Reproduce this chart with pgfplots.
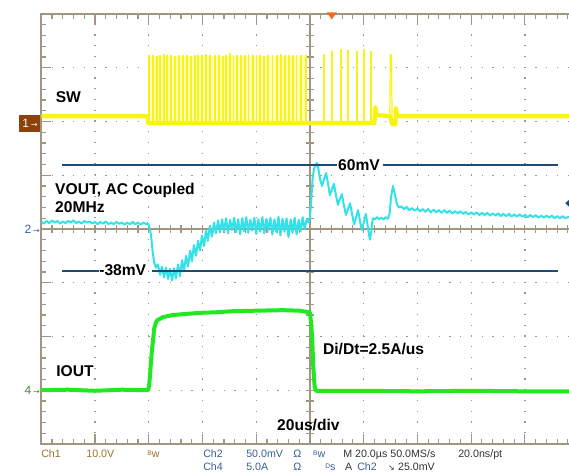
\documentclass[border=0pt]{standalone}
\usepackage{pgfplots}
\pgfplotsset{compat=1.18}
\usepackage{fontspec}
\setmainfont{Liberation Sans}
\newfontfamily\dejavu{DejaVu Sans}

\definecolor{swy}{RGB}{248,244,18}
\definecolor{swpale}{RGB}{255,255,190}
\definecolor{vcyan}{RGB}{50,226,232}
\definecolor{igreen}{RGB}{34,232,34}
\definecolor{lvl}{RGB}{32,74,114}
\definecolor{gratc}{RGB}{160,150,130}
\definecolor{gridc}{RGB}{150,150,150}
\definecolor{chone}{RGB}{150,115,45}
\definecolor{chtwo}{RGB}{55,95,150}
\definecolor{chfour}{RGB}{70,140,60}
\definecolor{mark1}{RGB}{140,66,8}
\definecolor{trig}{RGB}{240,105,40}

\newcommand\bw{\raisebox{1.6pt}{\fontsize{5}{5}\selectfont B}w}
\newcommand\ds{\raisebox{1.6pt}{\fontsize{5}{5}\selectfont D}s}

\tikzset{
  lab/.style={font=\fontsize{11.7}{12}\selectfont\bfseries, inner sep=0pt, anchor=base west},
  st/.style={font=\fontsize{8}{9}\selectfont, inner sep=0pt, anchor=base west},
}

\begin{document}
\begin{tikzpicture}
\useasboundingbox (0,0) rectangle (426.75pt,354pt);
\begin{axis}[
  at={(30.75pt,21pt)}, anchor=south west,
  scale only axis, width=396pt, height=322.5pt,
  xmin=-100.1, xmax=96.4, ymin=-4, ymax=4,
  hide axis, clip=false,
]
% graticule: dotted grid
\pgfplotsinvokeforeach{-80,-60,-40,-20,20,40,60,80}{
  \draw[gridc, line width=0.9pt, dash pattern=on 0.9pt off 7.16pt] (axis cs:#1,-4) -- (axis cs:#1,4);
}
\pgfplotsinvokeforeach{-3,-2,-1,1,2,3}{
  \draw[gridc, line width=0.9pt, dash pattern=on 0.9pt off 7.16pt] (axis cs:-100.1,#1) -- (axis cs:96.4,#1);
}
% frame and centre cross
\draw[gratc, line width=1pt] (axis cs:96.4,4) -- (axis cs:-100.1,4) -- (axis cs:-100.1,-4) -- (axis cs:96.4,-4);
\draw[gratc, line width=0.9pt] (axis cs:-100.1,0) -- (axis cs:96.4,0);
\draw[gratc, line width=0.9pt] (axis cs:0,-4) -- (axis cs:0,4);
\pgfplotsinvokeforeach{-96,-92,...,96}{
  \draw[gratc, line width=0.8pt] (axis cs:#1,4) -- ++(0pt,-3.75pt);
  \draw[gratc, line width=0.8pt] (axis cs:#1,-4) -- ++(0pt,3.75pt);
  \draw[gratc, line width=0.8pt] (axis cs:#1,0) ++(0pt,-3pt) -- ++(0pt,6pt);
}
\pgfplotsinvokeforeach{-80,-60,-40,-20,20,40,60,80}{
  \draw[gratc, line width=0.8pt] (axis cs:#1,4) -- ++(0pt,-7.5pt);
  \draw[gratc, line width=0.8pt] (axis cs:#1,-4) -- ++(0pt,7.5pt);
}
\pgfplotsinvokeforeach{-3.8,-3.6,...,3.8}{
  \draw[gratc, line width=0.8pt] (axis cs:-100.1,#1) -- ++(3.75pt,0pt);
  \draw[gratc, line width=0.8pt] (axis cs:0,#1) ++(-3pt,0pt) -- ++(6pt,0pt);
}
\pgfplotsinvokeforeach{-3,-2,-1,1,2,3}{
  \draw[gratc, line width=0.8pt] (axis cs:-100.1,#1) -- ++(7.5pt,0pt);
}

% SW (Ch1)
\addplot[draw=none, fill=swpale, forget plot] coordinates {(-60.3,1.97) (-60.3,3.22) (-1.0,3.22) (-1.0,1.97)};
\addplot[swy, line width=3.2pt, line join=round, forget plot] coordinates {
(-100,2.10) (-60.4,2.10) (-60.2,1.97) (24.0,1.97) (24.3,2.27) (24.8,2.12) (29.7,2.10)
(30.6,1.95) (31.8,1.95) (32.0,2.25) (32.4,2.10) (96.4,2.10)};
\addplot[swy, line width=0.9pt, const plot mark left, forget plot] coordinates {
(-60.3,1.97)
(-60.0,3.22)(-59.8,1.97) (-58.6,3.22)(-58.4,1.97) (-57.1,3.20)(-56.8,1.97)
(-56.0,3.22)(-55.8,1.97) (-54.6,3.24)(-54.3,1.97) (-53.2,3.22)(-53.0,1.97)
(-51.8,3.22)(-51.5,1.97) (-50.4,3.21)(-50.2,1.97) (-48.9,3.22)(-48.6,1.97)
(-47.4,3.22)(-47.2,1.97) (-45.9,3.22)(-45.6,1.97) (-44.5,3.20)(-44.3,1.97)
(-43.1,3.22)(-42.8,1.97) (-41.7,3.22)(-41.5,1.97) (-40.2,3.22)(-39.9,1.97)
(-38.7,3.25)(-38.5,1.97) (-37.3,3.22)(-37.0,1.97) (-35.5,3.22)(-35.3,1.97)
(-34.0,3.22)(-33.7,1.97) (-32.6,3.20)(-32.4,1.97) (-31.3,3.22)(-31.0,1.97)
(-29.9,3.26)(-29.6,1.97) (-28.6,3.22)(-28.4,1.97) (-27.2,3.22)(-26.9,1.97)
(-25.7,3.22)(-25.5,1.97) (-24.3,3.22)(-24.0,1.97) (-23.0,3.24)(-22.8,1.97)
(-21.5,3.22)(-21.2,1.97) (-20.0,3.22)(-19.8,1.97) (-18.6,3.22)(-18.3,1.97)
(-17.2,3.20)(-17.0,1.97) (-15.8,3.22)(-15.5,1.97) (-14.0,3.22)(-13.8,1.97)
(-12.5,3.22)(-12.2,1.97) (-11.0,3.24)(-10.8,1.97) (-9.5,3.22)(-9.2,1.97)
(-8.0,3.22)(-7.8,1.97) (-6.6,3.22)(-6.3,1.97) (-5.1,3.22)(-4.9,1.97)
(-3.5,3.22)(-3.2,1.97) (-1.6,3.22)(-1.4,1.97)
(5.2,3.24)(5.5,1.97) (8.2,3.30)(8.5,1.97) (11.5,3.33)(11.8,1.97)
(14.1,3.31)(14.4,1.97) (17.5,3.30)(17.8,1.97) (20.1,3.33)(20.4,1.97)
(22.7,3.30)(23.0,1.97)};
\addplot[swy, line width=0.9pt, forget plot] coordinates {
(29.7,2.10) (29.9,3.24) (30.3,3.24) (30.6,1.95)};

% VOUT (Ch2)
\addplot[vcyan, line width=1.5pt, line join=round, forget plot] coordinates {
(-100,0.14) (-99,0.10) (-98,0.15) (-97,0.11) (-96,0.16) (-95,0.12) (-94,0.15) (-93,0.10)
(-92,0.14) (-91,0.11) (-90,0.15) (-89,0.12) (-88,0.16) (-87,0.11) (-86,0.14) (-85,0.10)
(-84,0.15) (-83,0.12) (-82,0.14) (-81,0.10) (-80,0.13) (-79,0.09) (-78,0.13) (-77,0.10)
(-76,0.14) (-75,0.09) (-74,0.12) (-73,0.09) (-72,0.13) (-71,0.10) (-70,0.12) (-69,0.08)
(-68,0.12) (-67,0.09) (-66,0.13) (-65,0.09) (-64,0.12) (-63,0.08) (-62,0.12) (-61,0.09)
(-60.5,0.11) (-59.8,0.05) (-59.2,-0.10) (-58.6,-0.40) (-58.0,-0.62) (-57.3,-0.72) (-56.6,-0.66)
(-55.8,-0.85) (-55.1,-0.70) (-54.3,-0.90) (-53.6,-0.72) (-52.8,-0.93) (-52.1,-0.74)
(-51.3,-0.96) (-50.6,-0.73) (-49.9,-0.92) (-49.1,-0.66) (-48.4,-0.88) (-47.6,-0.58)
(-46.9,-0.78) (-46.1,-0.50) (-45.4,-0.70) (-44.6,-0.40) (-43.9,-0.60) (-43.2,-0.30)
(-42.4,-0.50) (-41.7,-0.22) (-40.9,-0.40) (-40.2,-0.12) (-39.4,-0.32) (-38.7,-0.02)
(-38.0,-0.22) (-37.2,0.06) (-36.5,-0.14) (-35.7,0.12) (-35.0,-0.08)
(-34.2,0.16) (-33.5,-0.06) (-32.7,0.18) (-32.0,-0.04) (-31.2,0.20) (-30.5,-0.08)
(-29.7,0.17) (-29.0,-0.02) (-28.2,0.21) (-27.5,-0.06) (-26.7,0.18) (-26.0,-0.10)
(-25.2,0.20) (-24.5,-0.04) (-23.7,0.22) (-23.0,-0.07) (-22.2,0.17) (-21.5,-0.03)
(-20.7,0.21) (-20.0,-0.09) (-19.2,0.18) (-18.5,-0.05) (-17.7,0.22) (-17.0,-0.08)
(-16.2,0.19) (-15.5,-0.02) (-14.7,0.21) (-14.0,-0.10) (-13.2,0.18) (-12.5,-0.06)
(-11.7,0.23) (-11.0,-0.12) (-10.2,0.19) (-9.5,-0.05) (-8.7,0.20) (-8.0,-0.15)
(-7.2,0.18) (-6.5,-0.07) (-5.7,0.21) (-5.0,-0.10) (-4.2,0.17) (-3.5,-0.04)
(-2.7,0.22) (-2.0,0.00) (-1.2,0.18) (-0.5,0.12)
(0.0,0.22) (0.5,0.55) (1.0,0.95) (1.5,1.12) (2.0,1.18) (2.6,1.23) (3.2,1.10) (3.8,0.92)
(4.5,0.80) (5.2,0.92) (6.0,1.04) (6.7,0.85) (7.4,0.63) (8.1,0.72) (8.9,0.84) (9.6,0.65)
(10.4,0.45) (11.1,0.55) (11.9,0.65) (12.6,0.45) (13.4,0.26) (14.1,0.36) (14.9,0.48)
(15.6,0.30) (16.4,0.09) (17.1,0.20) (17.9,0.35) (18.6,0.15) (19.3,-0.02) (20.0,0.12)
(20.8,0.28) (21.5,0.05) (22.3,-0.20) (22.8,-0.05) (23.4,0.20) (24.2,0.18) (25.0,0.22)
(25.8,0.18) (26.6,0.21) (27.4,0.18) (28.2,0.22) (29.0,0.19) (29.6,0.28) (30.2,0.60)
(30.9,0.80) (31.6,0.65) (32.4,0.45) (33.2,0.40) (34.0,0.42) (35,0.37)
(36,0.41) (37,0.35) (38,0.39) (39,0.34) (40,0.38) (41,0.33) (42,0.37) (43,0.32)
(44,0.37) (45,0.31) (46,0.36) (47,0.31) (48,0.35) (49,0.30) (50,0.35) (51,0.30)
(52,0.34) (53,0.29) (54,0.33) (55,0.29) (56,0.33) (57,0.28) (58,0.32) (59,0.27)
(60,0.31) (61,0.27) (62,0.31) (63,0.26) (64,0.30) (65,0.26) (66,0.30) (67,0.25)
(68,0.29) (69,0.25) (70,0.29) (71,0.24) (72,0.28) (73,0.24) (74,0.28) (75,0.23)
(76,0.27) (77,0.23) (78,0.27) (79,0.23) (80,0.26) (81,0.22) (82,0.26) (83,0.22)
(84,0.26) (85,0.21) (86,0.25) (87,0.21) (88,0.25) (89,0.21) (90,0.25) (91,0.20)
(92,0.24) (93,0.20) (94,0.24) (95,0.20) (96.4,0.23)};

% IOUT (Ch4)
\addplot[igreen, line width=3pt, line join=round, forget plot] coordinates {
(-100,-3.00) (-90,-2.99) (-80,-3.01) (-70,-2.99) (-60.3,-3.00)
(-59.9,-2.93) (-59.5,-2.72) (-59.2,-2.49) (-58.8,-2.25) (-58.4,-2.07)
(-58.0,-1.86) (-57.4,-1.75) (-56.9,-1.70) (-54.7,-1.64) (-51,-1.60) (-46,-1.58)
(-41,-1.56) (-35,-1.55) (-29,-1.53) (-20,-1.52) (-10,-1.51) (-4,-1.52)
(0.0,-1.55) (0.5,-1.80) (0.86,-2.07) (1.23,-2.57) (1.75,-2.94)
(2.23,-3.01) (20,-3.01) (40,-3.02) (60,-3.01) (80,-3.02) (96.4,-3.02)};

% level cursors
\addplot[lvl, line width=1pt, forget plot] coordinates {(-92.3,1.19) (10.0,1.19)};
\addplot[lvl, line width=1pt, forget plot] coordinates {(27.2,1.19) (92.3,1.19)};
\addplot[lvl, line width=1pt, forget plot] coordinates {(-92.3,-0.78) (-78.5,-0.78)};
\addplot[lvl, line width=1pt, forget plot] coordinates {(-58.8,-0.78) (92.3,-0.78)};

% labels
\node[lab] at (axis cs:-94.7,2.36) {SW};
\node[lab] at (axis cs:-94.9,0.65) {VOUT, AC Coupled};
\node[lab] at (axis cs:-94.9,0.30) {20MHz};
\node[lab] at (axis cs:-78.5,-0.87) {-38mV};
\node[lab] at (axis cs:10.4,1.08) {60mV};
\node[lab] at (axis cs:-94.5,-2.75) {IOUT};
\node[lab] at (axis cs:4.8,-2.34) {Di/Dt=2.5A/us};
\node[lab] at (axis cs:-12.3,-3.74) {20us/div};

% channel markers
\node[fill=mark1, text=white, inner sep=0pt, minimum width=15.75pt, minimum height=12.75pt,
  font=\fontsize{9}{9}\selectfont] at (axis cs:-104.2,1.96) {1\,{\dejavu\fontsize{6}{6}\selectfont →}};
\node[anchor=east, inner sep=0.6pt, text=chtwo, font=\fontsize{9}{9}\selectfont]
  at (axis cs:-100.1,0) {2\,{\dejavu\fontsize{6}{6}\selectfont →}};
\node[anchor=east, inner sep=0.6pt, text=chfour, font=\fontsize{9}{9}\selectfont]
  at (axis cs:-100.1,-3) {4\,{\dejavu\fontsize{6}{6}\selectfont →}};
\fill[trig] (axis cs:6.2,4.03) -- (axis cs:10.0,4.03) -- (axis cs:8.1,3.90) -- cycle;
\fill[lvl] (axis cs:95.0,0.48) -- (axis cs:96.8,0.56) -- (axis cs:96.8,0.40) -- cycle;

% status line
\node[st, text=chone] at (axis cs:-100.1,-4.26) {Ch1};
\node[st, text=chone] at (axis cs:-83.3,-4.26) {10.0V};
\node[st, text=chone] at (axis cs:-60.6,-4.26) {\bw};
\node[st, text=chtwo] at (axis cs:-39.8,-4.26) {Ch2};
\node[st, text=chtwo] at (axis cs:-23.8,-4.26) {50.0mV};
\node[st, text=chtwo] at (axis cs:-6.3,-4.26) {Ω};
\node[st, text=chtwo] at (axis cs:1.1,-4.26) {\bw};
\node[st, text=black!80] at (axis cs:12.3,-4.26) {M 20.0µs 50.0MS/s};
\node[st, text=black!80] at (axis cs:55.1,-4.26) {20.0ns/pt};
\node[st, text=chtwo] at (axis cs:-39.8,-4.49) {Ch4};
\node[st, text=chtwo] at (axis cs:-23.8,-4.49) {5.0A};
\node[st, text=chtwo] at (axis cs:-6.3,-4.49) {Ω};
\node[st, text=chtwo] at (axis cs:5.6,-4.49) {\ds};
\node[st, text=black!80] at (axis cs:13.0,-4.49) {A};
\node[st, text=chtwo] at (axis cs:17.5,-4.49) {Ch2};
\node[st, text=black!80] at (axis cs:29.0,-4.49) {{\dejavu\fontsize{6}{6}\selectfont ↘}};
\node[st, text=black!80] at (axis cs:32.7,-4.49) {25.0mV};
\end{axis}
\end{tikzpicture}
\end{document}
